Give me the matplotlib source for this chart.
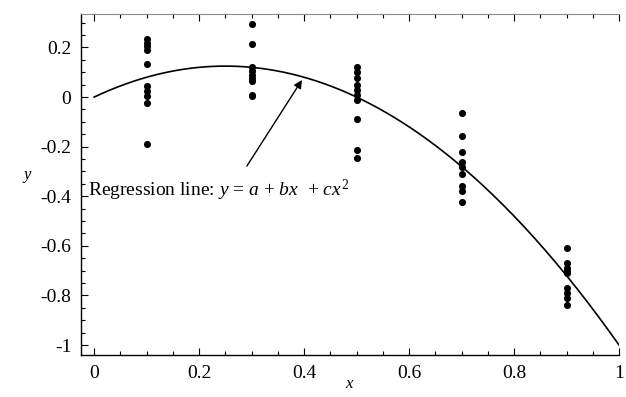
import numpy as np
import matplotlib.pyplot as plt
from matplotlib.ticker import MultipleLocator

plt.rcParams['font.family'] = ['Liberation Serif', 'DejaVu Serif']
plt.rcParams['mathtext.fontset'] = 'custom'
plt.rcParams['mathtext.rm'] = 'Liberation Serif'
plt.rcParams['mathtext.it'] = 'Liberation Serif:italic'

# observed responses at each design point
x_levels = [0.1, 0.3, 0.5, 0.7, 0.9]
y_01 = [0.235, 0.22, 0.205, 0.19, 0.135, 0.045, 0.025, 0.005, -0.025, -0.19]
y_03 = [0.295, 0.215, 0.12, 0.105, 0.09, 0.075, 0.065, 0.01, 0.005]
y_05 = [0.12, 0.10, 0.075, 0.05, 0.03, 0.01, -0.01, -0.09, -0.215, -0.245]
y_07 = [-0.065, -0.155, -0.22, -0.26, -0.28, -0.31, -0.36, -0.38, -0.425]
y_09 = [-0.61, -0.67, -0.69, -0.70, -0.71, -0.77, -0.79, -0.81, -0.84]
groups = [y_01, y_03, y_05, y_07, y_09]

# fitted quadratic y = a + b x + c x^2
a, b, c = 0.0, 1.0, -2.0

fig = plt.figure(figsize=(6.26, 3.97), dpi=100)
ax = fig.add_axes([0.1294, 0.1058, 0.8595, 0.8589])

for xv, ys in zip(x_levels, groups):
    ax.scatter([xv] * len(ys), ys, s=26, color='black', linewidths=0, zorder=3)

xs = np.linspace(0, 1, 200)
ax.plot(xs, a + b * xs + c * xs ** 2, color='black', lw=1.2)

# label and pointer to the fitted curve
ax.text(-0.012, -0.375, r'Regression line: $y$ = $a$ + $bx$  + $cx^2$',
        fontsize=14, ha='left', va='center')
ax.annotate('', xy=(0.396, 0.069), xytext=(0.291, -0.278),
            arrowprops=dict(arrowstyle='-|>', color='black', lw=1.0,
                            mutation_scale=12, shrinkA=0, shrinkB=0))

ax.set_xlim(-0.025, 1.0)
ax.set_ylim(-1.04, 0.335)
ax.xaxis.set_minor_locator(MultipleLocator(0.05))
ax.yaxis.set_minor_locator(MultipleLocator(0.05))
ax.set_xticks(np.arange(0, 1.01, 0.2))
ax.set_xticklabels(['0', '0.2', '0.4', '0.6', '0.8', '1'])
ax.set_yticks([-1, -0.8, -0.6, -0.4, -0.2, 0, 0.2])
ax.set_yticklabels(['-1', '-0.8', '-0.6', '-0.4', '-0.2', '0', '0.2'])

ax.tick_params(which='both', direction='in', top=True, right=False,
               labelsize=14, width=0.8)
ax.tick_params(which='major', length=5, pad=7)
ax.tick_params(which='minor', length=3)
ax.spines['right'].set_visible(False)
ax.spines['top'].set_color('0.55')
ax.spines['left'].set_linewidth(1.0)
ax.spines['bottom'].set_linewidth(1.0)

ax.set_xlabel('$x$', fontsize=12)
ax.xaxis.set_label_coords(0.5, -0.062)
ax.set_ylabel('$y$', fontsize=12, rotation=0)
ax.yaxis.set_label_coords(-0.10, 0.50)

fig.savefig('out.png', dpi=100)
